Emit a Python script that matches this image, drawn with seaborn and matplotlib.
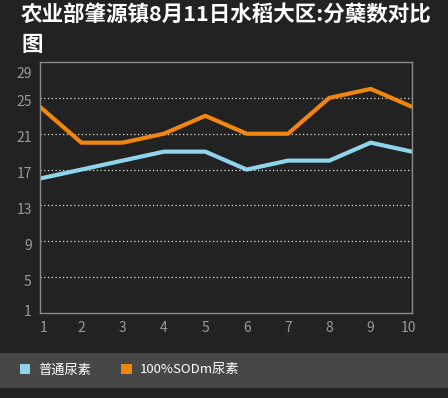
import pandas as pd
import seaborn as sns
import matplotlib.pyplot as plt
from matplotlib.patches import Rectangle, Patch
from matplotlib.transforms import ScaledTranslation

# data
points = [1, 2, 3, 4, 5, 6, 7, 8, 9, 10]
putong = [16, 17, 18, 19, 19, 17, 18, 18, 20, 19]
sodm = [24, 20, 20, 21, 23, 21, 21, 25, 26, 24]
series_names = ['普通尿素', '100%SODm尿素']
y_ticks = [1, 5, 9, 13, 17, 21, 25, 29]

BG = '#222222'
BAND = '#474747'
BLUE = '#8fd4ea'
ORANGE = '#f0860f'

df = pd.DataFrame({
    'x': points * 2,
    'y': putong + sodm,
    'series': [series_names[0]] * len(points) + [series_names[1]] * len(points),
})

sns.set_style('dark')
plt.rcParams['font.family'] = ['Noto Sans CJK SC', 'DejaVu Sans']

fig = plt.figure(figsize=(4.48, 3.98), dpi=100, facecolor=BG)
ax = fig.add_axes([40 / 448, 85 / 398, 372 / 448, 251 / 398])
ax.set_facecolor(BG)

sns.lineplot(data=df, x='x', y='y', hue='series', palette=[BLUE, ORANGE],
             linewidth=3, ax=ax, legend=False)

ax.set_xlim(1, 10)
ax.set_ylim(1, 29)
ax.set_xticks(points)
ax.set_yticks(y_ticks)
ax.grid(False)
for t in y_ticks[1:-1]:
    ax.axhline(t, color='#dddddd', linestyle=(0, (1, 2)), linewidth=0.9, zorder=0)
for s in ax.spines.values():
    s.set_color('#8a8a8a')
    s.set_linewidth(1)
ax.tick_params(colors='#9a9a9a', labelsize=10, length=0, pad=6)
ax.set_xlabel('')
ax.set_ylabel('')


# labels sit a bit below their lines, end labels pulled inside the frame
def nudge(label, dx_px, dy_px):
    off = ScaledTranslation(dx_px / 100, dy_px / 100, fig.dpi_scale_trans)
    label.set_transform(label.get_transform() + off)


ylabels = ax.get_yticklabels()
for i, lab in enumerate(ylabels):
    if i == 0:
        nudge(lab, 0, 3)
    elif i == len(ylabels) - 1:
        nudge(lab, 0, -10)
    else:
        nudge(lab, 0, -3)
xlabels = ax.get_xticklabels()
nudge(xlabels[0], 4, 0)
nudge(xlabels[-1], -4, 0)

fig.text(21 / 448, 1 - 4 / 398, '农业部肇源镇8月11日水稻大区:分蘖数对比\n图',
         color='white', fontsize=15.5, fontweight='bold', ha='left', va='top',
         linespacing=1.55)

# legend band
fig.patches.append(Rectangle((0, 10 / 398), 1, 35 / 398, transform=fig.transFigure,
                             facecolor=BAND, edgecolor='none', zorder=0))
handles = [Patch(facecolor=BLUE, edgecolor='none'), Patch(facecolor=ORANGE, edgecolor='none')]
leg = fig.legend(handles, series_names, loc='center left', ncol=2,
                 bbox_to_anchor=(13 / 448, 28 / 398), frameon=False,
                 handlelength=0.8, handleheight=0.8, handletextpad=0.6,
                 columnspacing=2.3, fontsize=9.5, borderpad=0)
for t in leg.get_texts():
    t.set_color('white')

fig.savefig('out.png', dpi=100, facecolor=BG)
